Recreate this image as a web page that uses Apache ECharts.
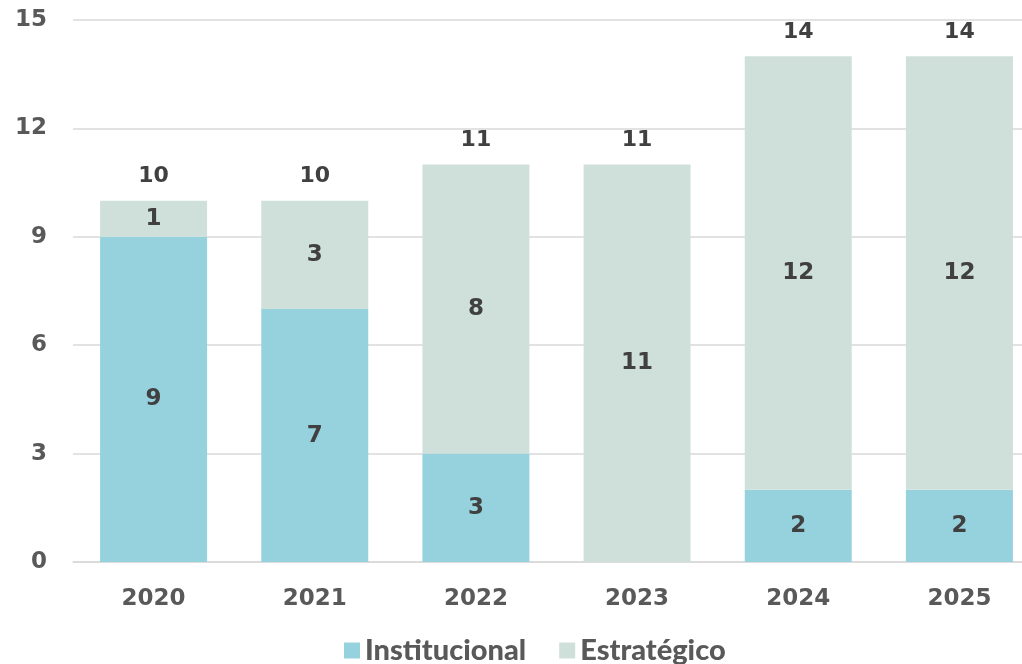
<!DOCTYPE html>
<html>
<head>
<meta charset="utf-8">
<script src="https://cdn.jsdelivr.net/npm/echarts@6/dist/echarts.min.js"></script>
<style>
  html, body { margin: 0; padding: 0; overflow: hidden; background: #fff; }
  #chart { width: 1040px; height: 664px; }
</style>
</head>
<body>
<div id="chart"></div>
<script>
// datos
var years = ['2020', '2021', '2022', '2023', '2024', '2025']
var institucional = [9, 7, 3, 0, 2, 2]
var estrategico = [1, 3, 8, 11, 12, 12]
var totals = [10, 10, 11, 11, 14, 14]

var numFont = 'DejaVu Sans'
var textFont = 'Lato'
var myChart = echarts.init(document.getElementById('chart'))

var insideLabel = {
  show: true,
  position: 'inside',
  color: '#404040',
  fontFamily: numFont,
  fontWeight: 'bold',
  fontSize: 23,
  formatter: function (p) { return p.value ? p.value : '' }
}

myChart.setOption({
  animation: false,
  grid: { left: 73, right: 0, top: 20, bottom: 102 },
  legend: {
    data: ['Institucional', 'Estratégico'],
    left: 339,
    top: 631,
    icon: 'rect',
    itemWidth: 16,
    itemHeight: 16,
    itemGap: 33,
    textStyle: { fontSize: 29, fontWeight: 900, color: '#595959', fontFamily: textFont }
  },
  xAxis: {
    type: 'category',
    data: years,
    axisTick: { show: false },
    axisLine: { lineStyle: { color: '#d9d9d9', width: 1.5 } },
    axisLabel: { margin: 26, fontSize: 23, fontWeight: 'bold', color: '#595959', fontFamily: numFont }
  },
  yAxis: {
    type: 'value',
    min: 0,
    max: 15,
    interval: 3,
    axisLine: { show: false },
    axisTick: { show: false },
    splitLine: { lineStyle: { color: '#d9d9d9', width: 1.5 } },
    axisLabel: { margin: 26, fontSize: 23, fontWeight: 'bold', color: '#595959', fontFamily: numFont }
  },
  series: [
    {
      name: 'Institucional',
      type: 'bar',
      stack: 'total',
      barWidth: 107,
      itemStyle: { color: '#96d2de' },
      label: insideLabel,
      data: institucional
    },
    {
      name: 'Estratégico',
      type: 'bar',
      stack: 'total',
      barWidth: 107,
      itemStyle: { color: '#cfe0db' },
      label: insideLabel,
      data: estrategico
    },
    {
      // totales encima de cada barra
      name: 'Total',
      type: 'bar',
      barWidth: 107,
      barGap: '-100%',
      z: 0,
      silent: true,
      itemStyle: { color: 'rgba(0,0,0,0)' },
      label: {
        show: true,
        position: 'top',
        distance: 13,
        color: '#404040',
        fontFamily: numFont,
        fontWeight: 'bold',
        fontSize: 22
      },
      data: totals
    }
  ]
})
</script>
</body>
</html>
